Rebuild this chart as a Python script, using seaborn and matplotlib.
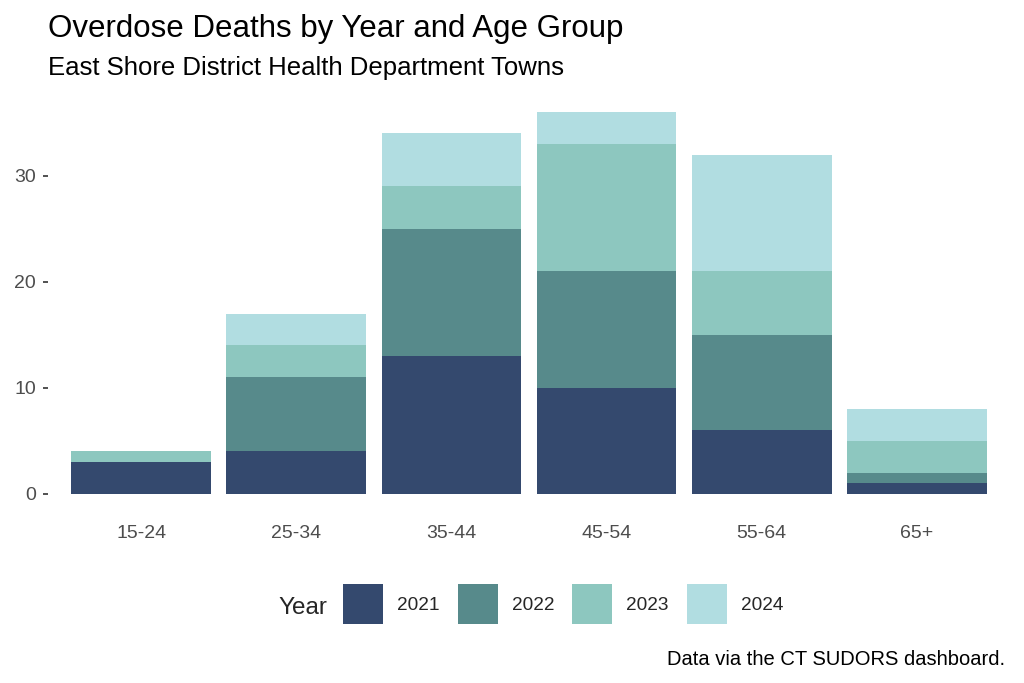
import numpy as np
import pandas as pd
import seaborn as sns
import matplotlib.pyplot as plt
from matplotlib.patches import Patch

age_groups = ["15-24", "25-34", "35-44", "45-54", "55-64", "65+"]
years = ["2021", "2022", "2023", "2024"]
deaths_2021 = [3, 4, 13, 10, 6, 1]
deaths_2022 = [0, 7, 12, 11, 9, 1]
deaths_2023 = [1, 3, 4, 12, 6, 3]
deaths_2024 = [0, 3, 5, 3, 11, 3]
colors = ["#34496e", "#578a8b", "#8dc7bf", "#b1dde1"]

sns.set_theme(style="white")
plt.rcParams['font.family'] = ['Liberation Sans', 'DejaVu Sans']

df = pd.DataFrame({"age": age_groups, "2021": deaths_2021, "2022": deaths_2022,
                   "2023": deaths_2023, "2024": deaths_2024})
cum = df[years].cumsum(axis=1)

fig = plt.figure(figsize=(10.24, 6.83), dpi=100)
ax = fig.add_axes([48 / 1024, 1 - 513 / 683, (1010 - 48) / 1024, (513 - 93) / 683])

# draw from the top of the stack down so lower years cover upper ones
for yr, col in zip(reversed(years), reversed(colors)):
    sns.barplot(x=df["age"], y=cum[yr], color=col, width=0.9, ax=ax,
                saturation=1, edgecolor="none", linewidth=0)

ax.set_xlim(-0.6, len(age_groups) - 0.4)
ax.set_ylim(-1.8, 37.8)
ax.set_yticks([0, 10, 20, 30])
ax.set_xlabel("")
ax.set_ylabel("")
sns.despine(ax=ax, left=True, bottom=True)
ax.grid(False)
ax.tick_params(axis="y", length=3.6, width=1.2, color="#333333", pad=5,
               labelsize=14, labelcolor="#4d4d4d", left=True)
ax.tick_params(axis="x", length=0, pad=9, labelsize=14, labelcolor="#4d4d4d")

fig.text(48 / 1024, 1 - 37 / 683, "Overdose Deaths by Year and Age Group",
         fontsize=22.5, va="baseline", ha="left", color="black")
fig.text(48 / 1024, 1 - 75 / 683, "East Shore District Health Department Towns",
         fontsize=18.5, va="baseline", ha="left", color="black")
fig.text(1005 / 1024, 1 - 665 / 683, "Data via the CT SUDORS dashboard.",
         fontsize=14.5, va="baseline", ha="right", color="black")

handles = [Patch(facecolor=c, edgecolor="none") for c in colors]
fig.legend(handles, years, loc="center left", bbox_to_anchor=(343 / 1024, 1 - 604 / 683),
           ncol=4, frameon=False, fontsize=13.7, handlelength=2.1, handleheight=2.8,
           handletextpad=0.74, columnspacing=0.95, borderpad=0, borderaxespad=0)
fig.text(278 / 1024, 1 - 614 / 683, "Year", fontsize=17.5, va="baseline", ha="left")

fig.savefig("out.png", dpi=100)
